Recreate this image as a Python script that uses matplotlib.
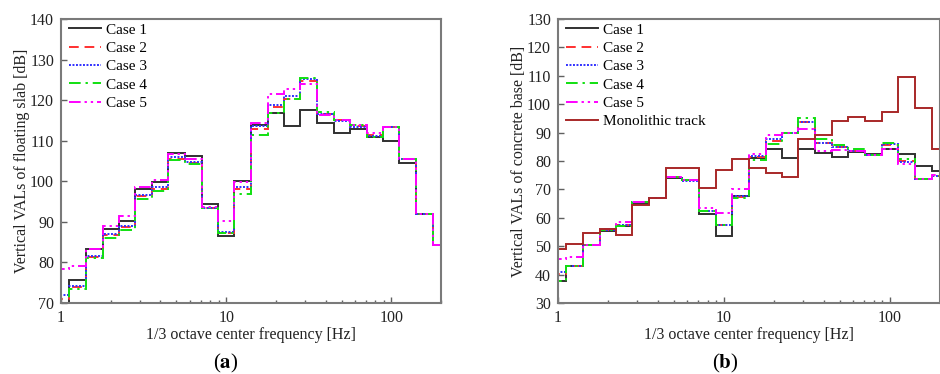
import numpy as np
import matplotlib
matplotlib.use("Agg")
import matplotlib.pyplot as plt

plt.rcParams['font.family'] = ['Liberation Serif', 'DejaVu Serif']
plt.rcParams['mathtext.fontset'] = 'stix'

# 1/3 octave band centre frequencies [Hz]
freqs = [1, 1.25, 1.6, 2, 2.5, 3.15, 4, 5, 6.3, 8, 10, 12.5, 16, 20, 25,
         31.5, 40, 50, 63, 80, 100, 125, 160, 200]

# (a) floating slab VAL [dB]
slab_case1 = [69.8, 75.6, 83.4, 88.3, 90.1, 98.0, 99.8, 107.0, 106.2, 94.3, 86.5, 100.1,
              113.8, 116.9, 113.6, 117.5, 114.3, 111.9, 112.8, 110.8, 109.9, 104.6, 92.0, 84.4]
slab_case2 = [71.1, 74.0, 81.4, 86.8, 88.8, 96.3, 98.2, 105.6, 104.5, 93.5, 87.2, 98.0,
              112.8, 118.4, 120.3, 124.8, 116.5, 115.1, 113.6, 111.3, 113.4, 105.5, 92.0, 84.4]
slab_case3 = [72.0, 74.2, 81.7, 87.0, 89.0, 96.6, 98.5, 106.0, 104.8, 93.5, 87.4, 98.5,
              113.6, 118.9, 121.0, 125.1, 116.6, 114.9, 113.4, 111.1, 113.4, 105.5, 92.0, 84.4]
slab_case4 = [69.5, 73.5, 81.2, 86.1, 87.9, 95.7, 97.6, 105.2, 104.2, 93.4, 87.3, 96.8,
              111.4, 116.9, 120.2, 125.4, 117.1, 115.2, 113.8, 111.0, 113.5, 105.6, 92.0, 84.4]
slab_case5 = [78.4, 79.0, 83.4, 88.9, 91.5, 98.6, 100.3, 106.7, 105.6, 93.6, 90.1, 99.8,
              114.4, 121.4, 122.8, 124.1, 116.4, 115.2, 113.8, 111.8, 113.4, 105.4, 92.0, 84.4]

# (b) concrete base VAL [dB]
base_case1 = [37.8, 42.9, 50.3, 55.4, 57.1, 64.8, 66.8, 74.1, 73.2, 61.4, 53.5, 67.6,
              81.1, 84.2, 80.9, 84.1, 82.9, 81.5, 83.2, 82.3, 84.4, 82.6, 78.2, 76.5]
base_case2 = [40.1, 42.9, 50.3, 55.6, 57.3, 65.4, 66.8, 74.2, 73.2, 62.3, 57.3, 67.4,
              81.5, 86.9, 89.8, 93.8, 86.4, 85.0, 83.6, 82.1, 85.6, 80.1, 73.7, 74.8]
base_case3 = [40.8, 42.9, 50.3, 55.6, 57.4, 65.6, 66.8, 74.2, 73.1, 62.4, 57.5, 67.6,
              81.8, 87.6, 89.9, 93.8, 86.2, 84.8, 83.6, 82.1, 85.9, 79.7, 73.5, 74.8]
base_case4 = [37.6, 42.9, 50.3, 55.6, 57.0, 65.4, 66.8, 74.3, 73.2, 62.4, 57.4, 66.8,
              80.3, 85.9, 89.9, 95.0, 87.6, 85.6, 84.2, 82.1, 86.2, 80.8, 73.7, 74.8]
base_case5 = [45.6, 46.2, 50.3, 56.0, 58.6, 65.6, 66.9, 74.2, 73.4, 63.6, 61.8, 70.1,
              82.3, 89.1, 90.0, 91.3, 83.6, 83.8, 83.6, 82.1, 84.2, 78.9, 73.7, 74.9]
base_mono = [49.0, 50.8, 54.8, 56.1, 54.1, 64.4, 67.0, 77.6, 77.4, 70.5, 76.8, 80.6,
             77.7, 75.7, 74.4, 87.9, 89.2, 94.2, 95.6, 94.2, 97.1, 109.7, 98.5, 84.4]

labels = ['Case 1', 'Case 2', 'Case 3', 'Case 4', 'Case 5', 'Monolithic track']

# band edges from the centre frequencies (geometric means)
f = np.array(freqs)
inner = np.sqrt(f[:-1] * f[1:])
edges = np.concatenate([[f[0] * 2 ** (-1 / 6)], inner, [f[-1] * 2 ** (1 / 6)]])

styles = [
    dict(color='#303030', linestyle='-'),
    dict(color='#ff3030', linestyle=(0, (5, 3))),
    dict(color='#3030ff', linestyle=(0, (1, 0.8))),
    dict(color='#10e010', linestyle=(0, (6, 2.5, 1.2, 2.5))),
    dict(color='#ff00ff', linestyle=(0, (6, 2, 1.2, 2, 1.2, 2))),
    dict(color='#a82828', linestyle='-'),
]

fig = plt.figure(figsize=(9.4, 3.74), dpi=100)
ax_a = fig.add_axes([61 / 940, 1 - 303 / 374, 380 / 940, 284 / 374])
ax_b = fig.add_axes([558 / 940, 1 - 303 / 374, 382 / 940, 284 / 374])


def draw(ax, series, ylim, ylabel):
    for vals, lab, st in zip(series, labels, styles):
        ax.stairs(vals, edges, baseline=None, linewidth=1.4, label=lab, **st)
    ax.set_xscale('log')
    ax.set_xlim(1, 200)
    ax.set_ylim(*ylim)
    ax.set_yticks(np.arange(ylim[0], ylim[1] + 1, 10))
    ax.set_xticks([1, 10, 100])
    ax.set_xticklabels(['1', '10', '100'])
    ax.tick_params(direction='in', labelsize=11.5, length=4, width=1, colors='#606060',
                   labelcolor='#222222', pad=5)
    ax.tick_params(which='minor', direction='in', length=2.5, width=1, colors='#606060')
    for sp in ax.spines.values():
        sp.set_color('#7a7a7a')
        sp.set_linewidth(1.5)
    ax.set_xlabel('1/3 octave center frequency [Hz]', fontsize=11.5, color='#222222', labelpad=1)
    ax.set_ylabel(ylabel, fontsize=11.5, color='#222222', labelpad=0)
    ax.legend(loc='upper left', frameon=False, fontsize=11, handlelength=2.1,
              labelspacing=0.3, handletextpad=0.3, borderaxespad=0.25,
              borderpad=0.3, bbox_to_anchor=(0.0, 1.015))


draw(ax_a, [slab_case1, slab_case2, slab_case3, slab_case4, slab_case5],
     (70, 140), 'Vertical VALs of floating slab [dB]')
draw(ax_b, [base_case1, base_case2, base_case3, base_case4, base_case5, base_mono],
     (30, 130), 'Vertical VALs of concrete base [dB]')

fig.text(226 / 940, 1 - 363 / 374, r'($\mathbf{a}$)', ha='center', va='center', fontsize=15)
fig.text(725 / 940, 1 - 363 / 374, r'($\mathbf{b}$)', ha='center', va='center', fontsize=15)

fig.savefig('out.png', dpi=100)
